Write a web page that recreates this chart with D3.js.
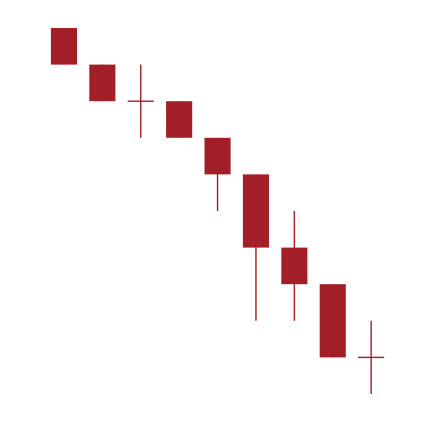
<!DOCTYPE html>
<html>
<head>
<meta charset="utf-8">
<script src="https://cdn.jsdelivr.net/npm/d3@7"></script>
<style>
  html, body { margin: 0; padding: 0; background: #fff; }
  svg { display: block; }
</style>
</head>
<body>
<svg id="chart" width="434" height="422"></svg>
<script>
const categories = ["1", "2", "3", "4", "5", "6", "7", "8", "9"];
const openValues  = [10, 9, 8, 8, 7, 6, 4, 3, 1];
const highValues  = [10, 9, 9, 8, 7, 6, 5, 3, 2];
const lowValues   = [9, 8, 7, 7, 5, 2, 2, 1, 0];
const closeValues = [9, 8, 8, 7, 6, 4, 3, 1, 1];

const color = "#a31f28";

const data = categories.map((c, i) => ({
  c, o: openValues[i], h: highValues[i], l: lowValues[i], cl: closeValues[i]
}));

const svg = d3.select("#chart");

const x = d3.scaleBand()
  .domain(categories)
  .range([31.7, 403.4])
  .paddingInner(0.32)
  .paddingOuter(0.5);

const y = d3.scaleLinear()
  .domain([0, 10])
  .range([394, 28]);

const g = svg.append("g");

const candle = g.selectAll("g.candle").data(data).enter().append("g").attr("class", "candle");

// wicks
candle.append("line")
  .attr("x1", d => x(d.c) + x.bandwidth() / 2)
  .attr("x2", d => x(d.c) + x.bandwidth() / 2)
  .attr("y1", d => y(d.h))
  .attr("y2", d => y(d.l))
  .attr("stroke", color)
  .attr("stroke-width", 1.4);

// bodies
candle.filter(d => d.o !== d.cl).append("rect")
  .attr("x", d => x(d.c))
  .attr("width", x.bandwidth())
  .attr("y", d => y(Math.max(d.o, d.cl)))
  .attr("height", d => Math.abs(y(d.o) - y(d.cl)))
  .attr("fill", color);

// doji horizontal line
candle.filter(d => d.o === d.cl).append("line")
  .attr("x1", d => x(d.c))
  .attr("x2", d => x(d.c) + x.bandwidth())
  .attr("y1", d => y(d.o))
  .attr("y2", d => y(d.o))
  .attr("stroke", color)
  .attr("stroke-width", 1.4);
</script>
</body>
</html>
